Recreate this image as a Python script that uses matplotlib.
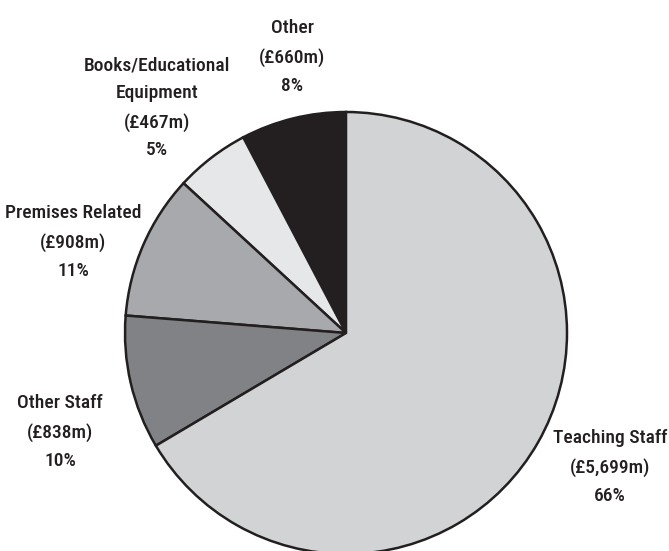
import matplotlib.pyplot as plt
from matplotlib import font_manager

# spending by category, counter-clockwise from 12 o'clock
categories = ['Other', 'Books/Educational\nEquipment', 'Premises Related', 'Other Staff', 'Teaching Staff']
amounts = [660, 467, 908, 838, 5699]
amount_labels = ['£660m', '£467m', '£908m', '£838m', '£5,699m']
percents = ['8%', '5%', '11%', '10%', '66%']

colours = ['#231f20', '#e6e7e8', '#a7a9ac', '#808285', '#d1d3d4']
# where each label block sits (pixel coords, y from bottom)
label_pos = [(292, 494), (157, 443), (73, 309), (60, 119), (610, 84)]

# look for a condensed face, the reference uses a narrow sans
fonts = font_manager.fontManager.ttflist
narrow = [f for f in fonts if ('Condensed' in f.name or 'Narrow' in f.name
          or str(f.stretch) in ('condensed', 'semi-condensed', 'extra-condensed'))
          and str(f.weight) in ('400', 'normal', 'regular', '500', 'medium')
          and f.style == 'normal']
narrow.sort(key=lambda f: (0 if 'Roboto' in f.name else 1 if 'Open' in f.name else 2,
                           0 if str(f.weight) in ('500', 'medium') else 1))
if narrow:
    fp = font_manager.FontProperties(fname=narrow[0].fname, size=14)
else:
    fp = font_manager.FontProperties(family='Liberation Sans', size=12.5)

fig = plt.figure(figsize=(6.69, 5.51), dpi=100)
ax = fig.add_axes([0, 0, 1, 1])
ax.pie(amounts, colors=colours, startangle=90, counterclock=True,
       center=(346, 218), radius=221,
       wedgeprops=dict(edgecolor='#231f20', linewidth=1.8))

for cat, amt, pct, (x, y) in zip(categories, amount_labels, percents, label_pos):
    ax.text(x, y, '%s\n(%s)\n%s' % (cat, amt, pct), ha='center', va='center',
            fontproperties=fp, color='#231f20', linespacing=1.7)

ax.set_xlim(0, 669)
ax.set_ylim(0, 551)
ax.set_aspect('equal')
ax.axis('off')
fig.savefig('out.png', dpi=100)
